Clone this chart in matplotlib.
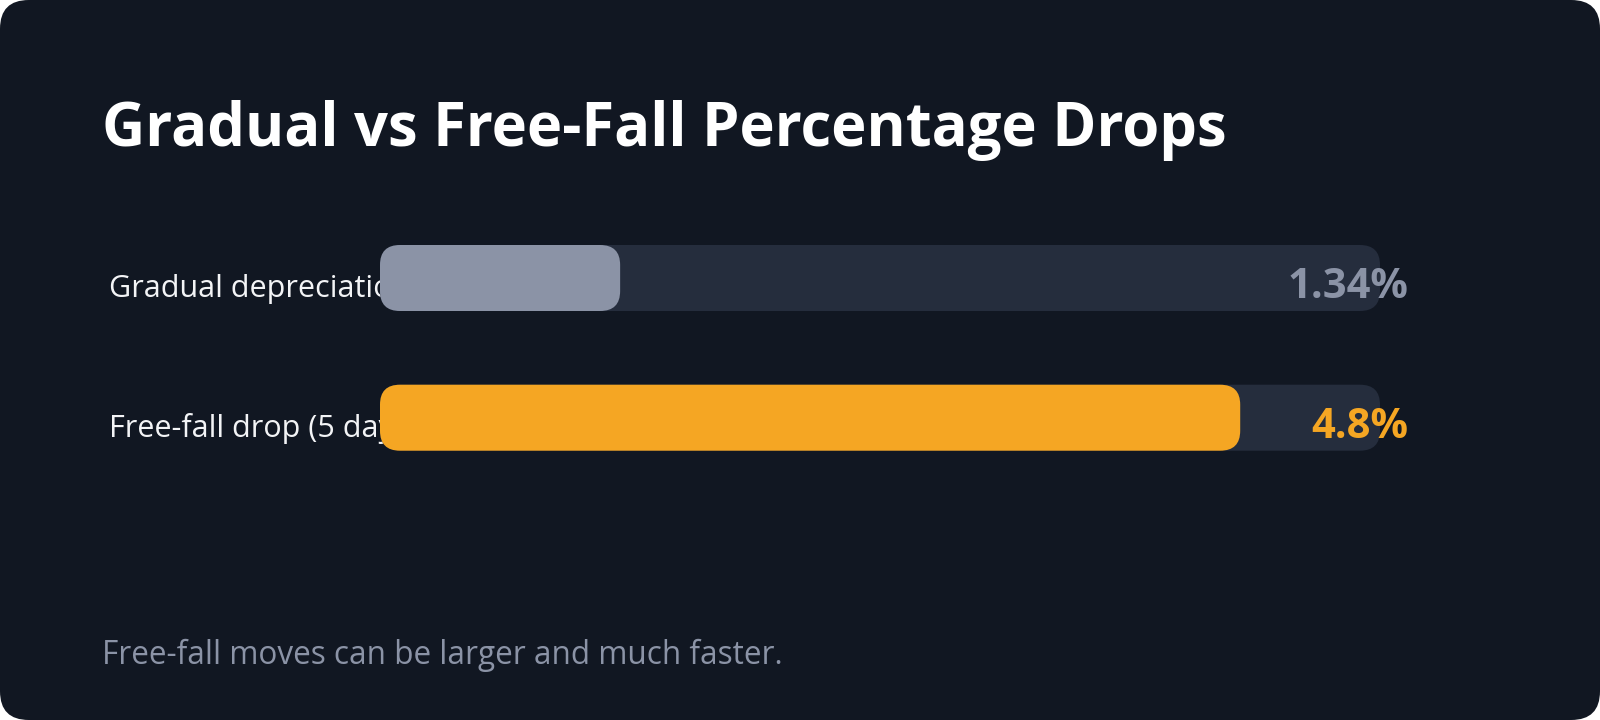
import matplotlib
matplotlib.use("Agg")
import matplotlib.pyplot as plt
from matplotlib.patches import FancyBboxPatch
from matplotlib.transforms import blended_transform_factory

# chart data
categories = ["Gradual depreciation", "Free-fall drop (5 days)"]
values = [1.34, 4.8]
value_labels = ["1.34%", "4.8%"]
title = "Gradual vs Free-Fall Percentage Drops"
footnote = "Free-fall moves can be larger and much faster."

# colours
bg_color = "#111722"
track_color = "#252d3d"
bar_colors = ["#8b93a6", "#f5a623"]
label_colors = ["#8b93a6", "#f5a623"]

W, H = 1600, 720
plt.rcParams['font.family'] = ['Open Sans', 'DejaVu Sans']

fig = plt.figure(figsize=(W / 100, H / 100), dpi=100, facecolor="white")

# rounded card as background (behind the axes)
card = FancyBboxPatch((0, 0), 1, 1, boxstyle="round,pad=0,rounding_size=0.018",
                      transform=fig.transFigure, facecolor=bg_color,
                      edgecolor="none", mutation_aspect=W / H, zorder=-5)
fig.patches.append(card)

# title and footnote
fig.text(102 / W, 1 - 146 / H, title, color="white", fontsize=43,
         fontweight="bold", ha="left", va="baseline")
fig.text(102 / W, 1 - 664 / H, footnote, color="#8b93a6", fontsize=22.7,
         ha="left", va="baseline")

# bars axes (pixel layout)
px_unit = 139.7
ax_left, ax_right = 380, 1380
ax_top = 278 - 0.5 * px_unit
ax_h = 2 * px_unit
ax = fig.add_axes([ax_left / W, 1 - (ax_top + ax_h) / H, (ax_right - ax_left) / W, ax_h / H])
ax.set_facecolor("none")
ax.axis("off")
xmax = 5.58
ax.set_xlim(0, xmax)
ax.set_ylim(1.5, -0.5)

bar_h = 66 / px_unit
radius_px = 20
x_per_px = xmax / (ax_right - ax_left)
aspect = (1 / px_unit) / x_per_px
rad = radius_px * x_per_px

lbl_tr = blended_transform_factory(fig.transFigure, ax.transData)

for i, (cat, val) in enumerate(zip(categories, values)):
    # background track
    track = FancyBboxPatch((0, i - bar_h / 2), xmax, bar_h,
                           boxstyle="round,pad=0,rounding_size=%f" % rad,
                           mutation_aspect=aspect, facecolor=track_color,
                           edgecolor="none", zorder=2, clip_on=False)
    ax.add_patch(track)
    bar = FancyBboxPatch((0, i - bar_h / 2), val, bar_h,
                         boxstyle="round,pad=0,rounding_size=%f" % rad,
                         mutation_aspect=aspect, facecolor=bar_colors[i],
                         edgecolor="none", zorder=3, clip_on=False)
    ax.add_patch(bar)
    # category label sits under the bars
    ax.text(109 / W, i + 19 / px_unit, cat, transform=lbl_tr, color="#f3f4f6",
            fontsize=22, ha="left", va="baseline", zorder=1, clip_on=False)
    ax.text(1408 / W, i + 20 / px_unit, value_labels[i], transform=lbl_tr,
            color=label_colors[i], fontsize=30, fontweight="bold",
            ha="right", va="baseline", zorder=4, clip_on=False)

fig.savefig("out.png", dpi=100, facecolor="white")
